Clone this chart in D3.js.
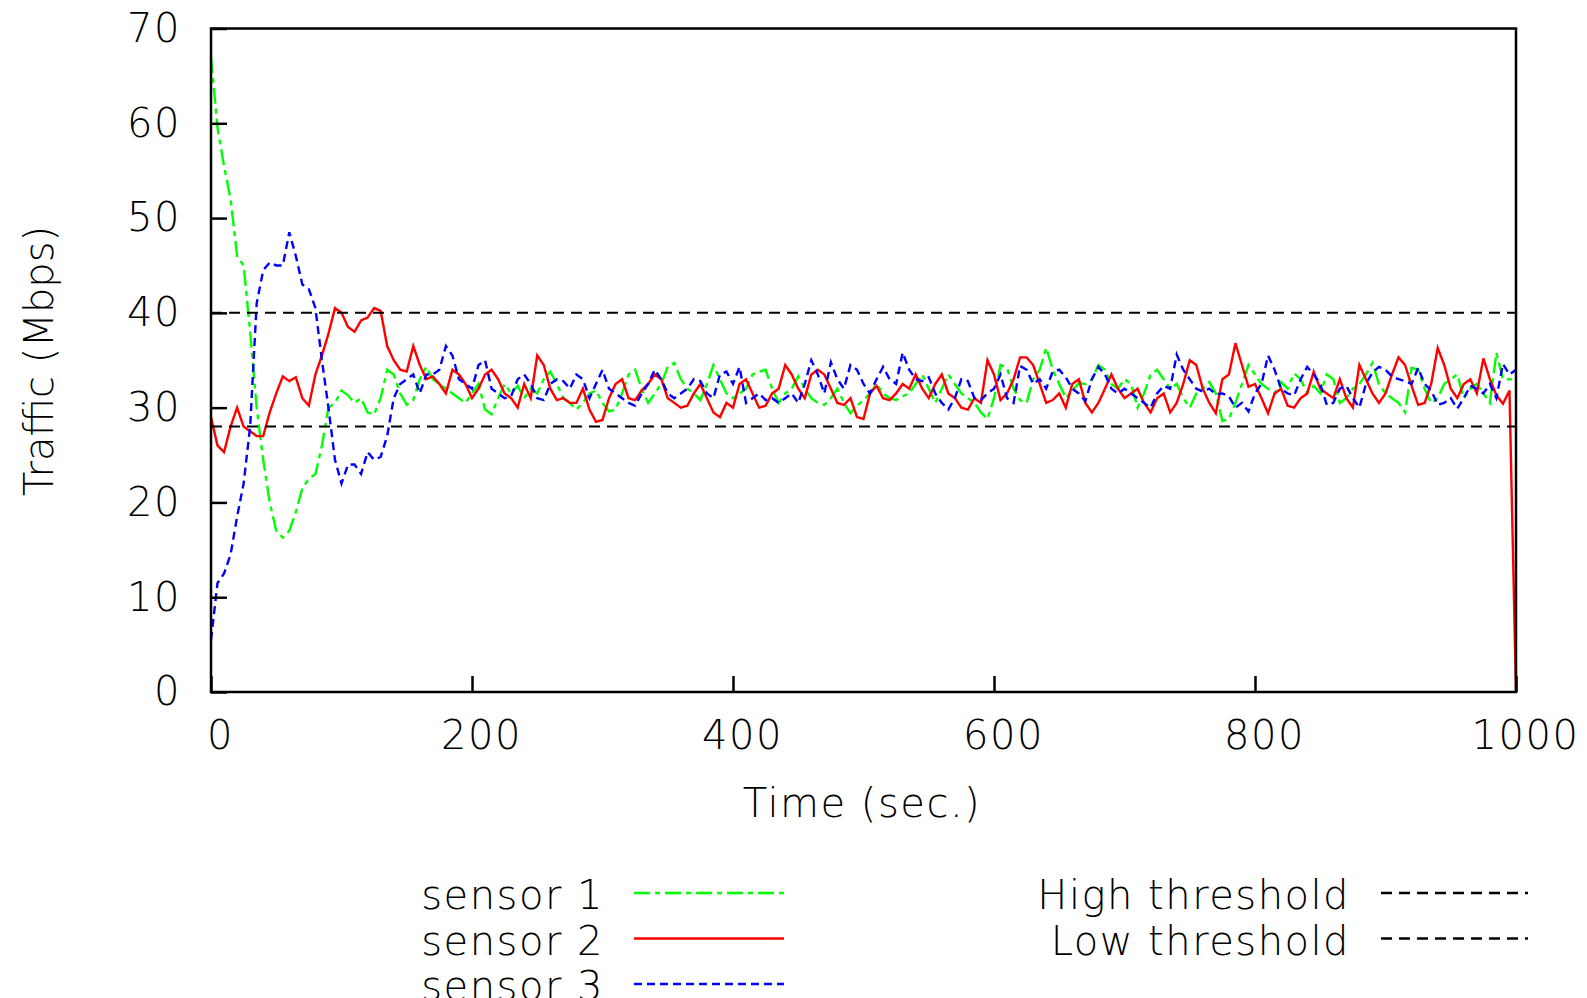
<!DOCTYPE html>

<head>
    <meta charset="utf-8">
    <script src="https://d3js.org/d3.v7.min.js"></script>
    <style>
        body {
            margin: 0;
            background-color: #fff;
        }

        text {
            font-family: "DejaVu Sans ExtraLight", "DejaVu Sans", sans-serif;
            font-size: 40px;
            font-weight: 200;
            letter-spacing: 1.5px;
            fill: #000;
        }

        .ylabel {
            letter-spacing: 0;
        }

        .frame {
            fill: none;
            stroke: #000;
            stroke-width: 2.5px;
        }

        .axis path {
            display: none;
        }

        .axis line {
            stroke: #000;
            stroke-width: 2.5px;
        }

        .sensor {
            fill: none;
            stroke-width: 2.4px;
        }

        .threshold {
            stroke: #000;
            stroke-width: 2px;
            stroke-dasharray: 11, 7;
        }

        .key line {
            stroke-width: 2.5px;
        }
    </style>
</head>

<body>
    <script>
        var width = 1587,
            height = 998;

        // one sample every 5 seconds, 0 .. 1000
        var sampleStep = 5;

        var sensor1 = [
            67, 59.5, 55.5, 52, 46, 45, 38, 30, 24.5, 20,
            17, 16.3, 17, 19, 21.5, 22.5, 23, 26, 30, 30.5,
            31.8, 31.3, 30.5, 31, 29.5, 29.3, 31, 34, 33.5, 31.5,
            30.3, 30.8, 33, 34.3, 33, 32.5, 32, 31.5, 31, 30.5,
            31.5, 32.5, 29.8, 29.3, 31, 32.5, 31.5, 32.3, 31, 32,
            31.5, 33, 33.8, 32.5, 31, 30.5, 29.8, 30.5, 31.5, 31.8,
            30.5, 29.6, 29.8, 31.5, 33.5, 34, 32, 30.5, 31.5, 32.5,
            34.3, 34.7, 33, 32, 31.5, 30.8, 32.5, 34.5, 33, 31.5,
            31, 31.5, 32, 33.5, 33.8, 34, 32, 30.5, 31.5, 32,
            33.3, 32, 31, 30.5, 30.3, 31, 32, 30.5, 29.4, 30.2,
            30.8, 31.5, 32.5, 31.5, 31, 30.8, 31.2, 31.5, 32.5, 33.5,
            32, 30.5, 32, 33.5, 32.5, 31.5, 31, 30.5, 29.5, 28.8,
            31, 34.5, 34.2, 32, 30.8, 30.5, 33, 34, 36.3, 34,
            32.5, 31, 31.8, 32.6, 32.5, 33, 34.5, 34, 32.5, 32,
            33, 32.5, 30, 31.5, 33.5, 34, 33, 32, 32.5, 31,
            30, 31.5, 32, 32.7, 31.5, 28.6, 28.8, 30.5, 32.5, 34.5,
            33.5, 32.5, 32, 31.5, 32.7, 32, 33.6, 33, 31.5, 32.3,
            31.5, 33.5, 33, 30.5, 31, 32, 32.5, 33.5, 34.7, 32.5,
            31.5, 31, 30.5, 29.5, 34.2, 34, 32, 30.5, 31, 32.5,
            33, 33.5, 31, 32, 32.5, 31.5, 30.5, 35.8, 33, 33,
            33
        ];

        var sensor2 = [
            29, 26, 25.3, 28, 30, 28, 27.5, 27, 27, 29.5,
            31.5, 33.3, 32.8, 33.2, 31, 30.2, 33.5, 35.5, 37.8, 40.5,
            40, 38.5, 38, 39.2, 39.5, 40.5, 40.2, 36.5, 35, 34,
            33.8, 36.5, 34.5, 33, 33.3, 32.5, 31.5, 34, 33.5, 32.5,
            31, 32, 33.5, 34, 33, 31.5, 31, 30, 32.5, 31,
            35.5, 34.5, 32, 30.8, 31, 30.5, 30.5, 32, 29.8, 28.5,
            28.7, 31, 32.5, 33, 31, 30.8, 31.8, 32.5, 33.5, 33,
            31, 30.5, 30, 30.2, 31.5, 32.5, 31, 29.5, 29, 30.5,
            30, 32.5, 33, 31.5, 30, 30.2, 31.5, 32, 34.5, 33.5,
            32, 31, 33.5, 34, 33.5, 32, 30.5, 30.3, 31, 29,
            28.8, 31.5, 32.3, 31, 30.8, 31.5, 32.5, 32, 33.5, 32,
            31, 32.5, 33.5, 31.5, 31, 30, 29.8, 31, 30.5, 35,
            33.5, 30.8, 31.5, 33, 35.3, 35.3, 34.5, 32.5, 30.5, 30.8,
            31.5, 30, 32.5, 33, 30.5, 29.5, 30.5, 32, 33.5, 32,
            31, 31.5, 32, 30.5, 29.5, 31, 31.5, 29.5, 30.5, 32.5,
            35, 34.5, 32, 30.5, 29.4, 33, 33.5, 36.8, 34.5, 32.2,
            32.5, 31, 29.4, 31.5, 32, 30.2, 30, 31, 31.5, 33.8,
            32, 31.5, 31, 33, 31, 30, 34.5, 33, 31.5, 30.5,
            31.5, 33.5, 35.3, 34.5, 32.3, 30.3, 30.5, 32.5, 36.3, 34.5,
            32, 31, 32.5, 33, 31.5, 35.2, 33, 31.3, 30.4, 31.8,
            0
        ];

        var sensor3 = [
            5.5, 11.5, 12.5, 14.5, 18.5, 22, 28, 41, 44.5, 45.3,
            45, 45, 48.5, 46, 43, 42.5, 40.5, 35, 30, 24.5,
            22, 24, 24, 23, 25.3, 24.5, 24.8, 27, 31, 32.5,
            33, 33.5, 31.5, 33.5, 33.5, 34, 36.5, 35.5, 33, 32.5,
            32, 34.5, 35, 32, 31.5, 31, 31.2, 33, 33.5, 32.5,
            31, 30.8, 32.5, 33, 32.8, 32, 33.5, 33, 31, 32.5,
            34, 32, 31.5, 31, 30.5, 30.2, 31.5, 32.5, 34, 33,
            31.5, 31, 31.5, 32, 33, 32.8, 31.5, 31, 33.5, 33.8,
            32.5, 34.3, 30.5, 31, 31.5, 30.8, 31, 30.5, 31, 31.5,
            30.5, 32.5, 35, 33.5, 31.5, 34.8, 33, 32, 34.5, 34,
            32.5, 31.5, 33, 34.3, 33, 32.5, 35.8, 34, 33, 32.8,
            33.2, 31.5, 30.5, 29.8, 31, 33, 32.8, 31, 30.8, 31.5,
            32, 33.5, 31, 30.5, 34.4, 34, 32.5, 33, 32, 33.8,
            34, 33.2, 32, 31.5, 30.7, 33, 34.3, 33.5, 32, 31.5,
            32, 31.5, 31, 30.5, 30, 31.5, 32.3, 32, 35.6, 34,
            33, 32, 31.7, 32, 31.4, 31.5, 31.2, 30, 30.5, 29.6,
            31.5, 32.5, 35.5, 34, 32, 31.5, 31.3, 33, 34.3, 33.5,
            32.5, 30.3, 30.5, 32, 32.3, 31, 30, 32.5, 33.7, 34.3,
            34, 33.3, 33, 32.8, 32.5, 34.2, 32.5, 31.8, 30.3, 30.5,
            31, 29.9, 31, 32.3, 32, 31.5, 32.5, 31, 34.6, 33.5,
            34
        ];

        var thresholds = [40, 28];

        var sensorNames = ["sensor 1", "sensor 2", "sensor 3"];
        var sensorColors = ["#00ff00", "#ff0000", "#0000ff"];
        var sensorDashes = ["16,5,5,5", null, "8,5"];
        var thresholdNames = ["High threshold", "Low threshold"];

        var xTicks = [0, 200, 400, 600, 800, 1000];
        var yTicks = [0, 10, 20, 30, 40, 50, 60, 70];

        var x = d3.scaleLinear()
            .domain([0, 1000])
            .range([211, 1516]);

        var y = d3.scaleLinear()
            .domain([0, 70])
            .range([692, 28.5]);

        var svg = d3.select("body").append("svg")
            .attr("width", width)
            .attr("height", height);

        svg.append("rect")
            .attr("width", width)
            .attr("height", height)
            .attr("fill", "#fff");

        var line = d3.line()
            .x(function(d, i) {
                return x(i * sampleStep);
            })
            .y(function(d) {
                return y(d);
            });

        // traces, drawn in plot order so blue ends up on top
        svg.selectAll(".sensor")
            .data([sensor1, sensor2, sensor3])
            .enter().append("path")
            .attr("class", "sensor")
            .attr("d", line)
            .attr("stroke", function(d, i) {
                return sensorColors[i];
            })
            .attr("stroke-dasharray", function(d, i) {
                return sensorDashes[i];
            });

        svg.selectAll(".threshold")
            .data(thresholds)
            .enter().append("line")
            .attr("class", "threshold")
            .attr("x1", x(0))
            .attr("x2", x(1000))
            .attr("y1", function(d) {
                return y(d);
            })
            .attr("y2", function(d) {
                return y(d);
            });

        var yAxis = svg.append("g")
            .attr("class", "axis")
            .attr("transform", "translate(" + x(0) + ",0)")
            .call(d3.axisLeft(y)
                .tickValues(yTicks)
                .tickSize(-16)
                .tickSizeOuter(0)
                .tickPadding(30));

        var xAxis = svg.append("g")
            .attr("class", "axis")
            .attr("transform", "translate(0," + y(0) + ")")
            .call(d3.axisBottom(x)
                .tickValues(xTicks)
                .tickFormat(d3.format("d"))
                .tickSize(-16)
                .tickSizeOuter(0)
                .tickPadding(29));

        xAxis.selectAll(".tick text").attr("dx", 9);

        svg.append("rect")
            .attr("class", "frame")
            .attr("x", x(0))
            .attr("y", y(70))
            .attr("width", x(1000) - x(0))
            .attr("height", y(0) - y(70));

        svg.append("text")
            .attr("x", 862)
            .attr("y", 817)
            .attr("text-anchor", "middle")
            .text("Time (sec.)");

        svg.append("text")
            .attr("class", "ylabel")
            .attr("transform", "translate(53,361) rotate(-90)")
            .attr("text-anchor", "middle")
            .text("Traffic (Mbps)");

        // key, left column
        var key = svg.append("g")
            .attr("class", "key");

        var rows = key.selectAll(".row")
            .data(sensorNames)
            .enter().append("g")
            .attr("class", "row")
            .attr("transform", function(d, i) {
                return "translate(0," + (893 + i * 45.5) + ")";
            });

        rows.append("text")
            .attr("x", 604)
            .attr("y", 16)
            .attr("text-anchor", "end")
            .text(function(d) {
                return d;
            });

        rows.append("line")
            .attr("x1", 634)
            .attr("x2", 784)
            .attr("stroke", function(d, i) {
                return sensorColors[i];
            })
            .attr("stroke-dasharray", function(d, i) {
                return sensorDashes[i];
            });

        // key, right column
        var rows2 = key.selectAll(".row2")
            .data(thresholdNames)
            .enter().append("g")
            .attr("class", "row2")
            .attr("transform", function(d, i) {
                return "translate(0," + (893 + i * 45.5) + ")";
            });

        rows2.append("text")
            .attr("x", 1350)
            .attr("y", 16)
            .attr("text-anchor", "end")
            .text(function(d) {
                return d;
            });

        rows2.append("line")
            .attr("class", "threshold")
            .attr("x1", 1381)
            .attr("x2", 1528);
    </script>
</body>
